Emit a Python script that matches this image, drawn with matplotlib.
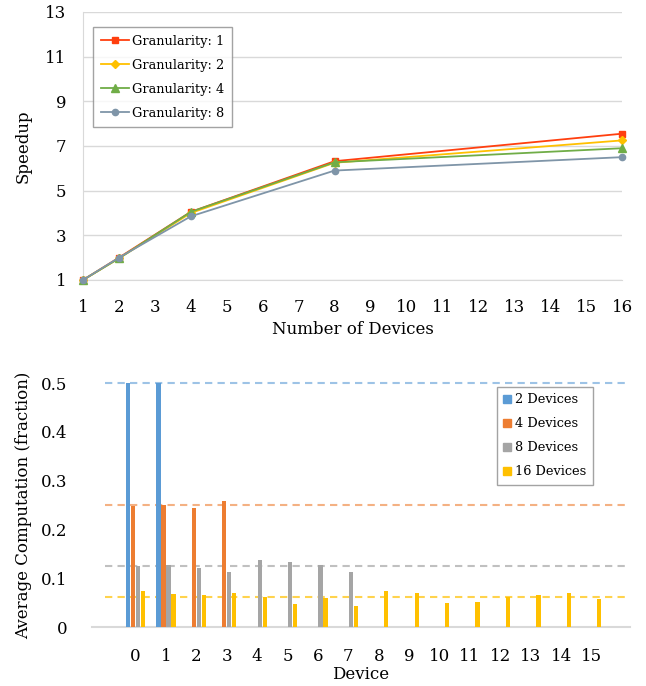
import matplotlib
matplotlib.use("Agg")
import matplotlib.pyplot as plt
import numpy as np
from matplotlib.patches import Patch

plt.rcParams['font.family'] = ['DejaVu Serif']

# ---- top chart data ----
devices = [1, 2, 4, 8, 16]
speed_g1 = [1.0, 2.0, 4.05, 6.32, 7.55]
speed_g2 = [1.0, 1.97, 4.0, 6.25, 7.25]
speed_g4 = [1.0, 1.97, 4.05, 6.27, 6.9]
speed_g8 = [1.0, 2.0, 3.85, 5.9, 6.5]
gran_labels = ["Granularity: 1", "Granularity: 2", "Granularity: 4", "Granularity: 8"]
x_ticks_top = list(range(1, 17))
y_ticks_top = [1, 3, 5, 7, 9, 11, 13]

# ---- bottom chart data ----
dev_idx = list(range(16))
frac_2 = [0.5, 0.501]
frac_4 = [0.248, 0.25, 0.2445, 0.258]
frac_8 = [0.124, 0.127, 0.121, 0.113, 0.137, 0.1325, 0.127, 0.113]
frac_16 = [0.074, 0.068, 0.065, 0.070, 0.062, 0.047, 0.0595, 0.044,
           0.073, 0.070, 0.049, 0.051, 0.062, 0.065, 0.070, 0.057]
ideal = [0.5, 0.25, 0.125, 0.0625]
bar_labels = ["2 Devices", "4 Devices", "8 Devices", "16 Devices"]
y_ticks_bot = [0, 0.1, 0.2, 0.3, 0.4, 0.5]

W, H = 646, 686
fig = plt.figure(figsize=(W / 100, H / 100), dpi=100)

def fr(x0, y0, x1, y1):
    return [x0 / W, 1 - y1 / H, (x1 - x0) / W, (y1 - y0) / H]

grid_c = '#D9D9D9'
fs = 12

# ---------- top ----------
ax = fig.add_axes(fr(83, 12, 622, 280))
line_specs = [
    (speed_g1, '#FF3F0F', 's', 5),
    (speed_g2, '#FFC000', 'D', 4.2),
    (speed_g4, '#70AD47', '^', 6),
    (speed_g8, '#7F95A8', 'o', 4.5),
]
for (vals, c, m, ms), lab in zip(line_specs, gran_labels):
    ax.plot(devices, vals, color=c, marker=m, markersize=ms, lw=1.3,
            label=lab, clip_on=False, zorder=3)
ax.set_xlim(1, 16)
ax.set_ylim(1, 13)
ax.set_xticks(x_ticks_top)
ax.set_yticks(y_ticks_top)
ax.tick_params(length=0, labelsize=fs)
ax.tick_params(axis='x', pad=14)
ax.tick_params(axis='y', pad=12)
ax.grid(axis='y', color=grid_c, lw=1)
for s in ['top', 'right']:
    ax.spines[s].set_visible(False)
ax.spines['left'].set_color(grid_c)
ax.spines['bottom'].set_color(grid_c)
ax.set_axisbelow(True)
ax.set_xlabel("Number of Devices", fontsize=fs, labelpad=3)
ax.set_ylabel("Speedup", fontsize=fs, labelpad=10)
leg = ax.legend(loc='upper left', bbox_to_anchor=((93 - 83) / 539, 1 - (27 - 12) / 268),
                fontsize=9.3, frameon=True, fancybox=False, handlelength=2.2,
                borderpad=0.6, labelspacing=0.85, handletextpad=0.2, borderaxespad=0)
leg.get_frame().set_edgecolor('#8C8C8C')
leg.get_frame().set_linewidth(1.0)

# ---------- bottom ----------
ax2 = fig.add_axes(fr(92, 383, 630, 627))
cols = ['#5B9BD5', '#ED7D31', '#A5A5A5', '#FFC000']
dash_cols = ['#9DC3E6', '#F4B183', '#C0C0C0', '#FFD34D']
series = [frac_2, frac_4, frac_8, frac_16]
bw = 0.14
step = 0.165
for k, (vals, c, lab) in enumerate(zip(series, cols, bar_labels)):
    xs = np.arange(len(vals)) + (k - 1.5) * step
    ax2.bar(xs, vals, width=bw, color=c, label=lab, clip_on=False, zorder=3)
for v, c in zip(ideal, dash_cols):
    ax2.hlines(v, -1.0, 16.1, color=c, lw=1.5, ls=(0, (3.5, 2.5)), zorder=2,
               clip_on=False)
ax2.set_xlim(-1.43, 16.26)
ax2.set_ylim(0, 0.5)
ax2.set_xticks(dev_idx)
ax2.set_yticks(y_ticks_bot)
ax2.set_yticklabels(["0", "0.1", "0.2", "0.3", "0.4", "0.5"])
ax2.tick_params(length=0, labelsize=fs)
ax2.tick_params(axis='x', pad=15)
ax2.tick_params(axis='y', pad=18)
for s in ['top', 'right', 'left']:
    ax2.spines[s].set_visible(False)
ax2.spines['bottom'].set_color(grid_c)
ax2.spines['bottom'].set_linewidth(1.5)
ax2.set_xlabel("Device", fontsize=fs, labelpad=1)
ax2.set_ylabel("Average Computation (fraction)", fontsize=fs, labelpad=6)
handles = [Patch(color=c, label=l) for c, l in zip(cols, bar_labels)]
leg2 = ax2.legend(handles=handles, loc='upper left',
                  bbox_to_anchor=((497 - 92) / 538, 1 - (387 - 383) / 244),
                  fontsize=9.3, frameon=True, fancybox=False, handlelength=0.6,
                  handleheight=0.6, borderpad=0.5, labelspacing=0.85,
                  handletextpad=0.3, borderaxespad=0)
leg2.get_frame().set_edgecolor('#8C8C8C')
leg2.get_frame().set_linewidth(1.0)

fig.savefig("out.png", dpi=100)
